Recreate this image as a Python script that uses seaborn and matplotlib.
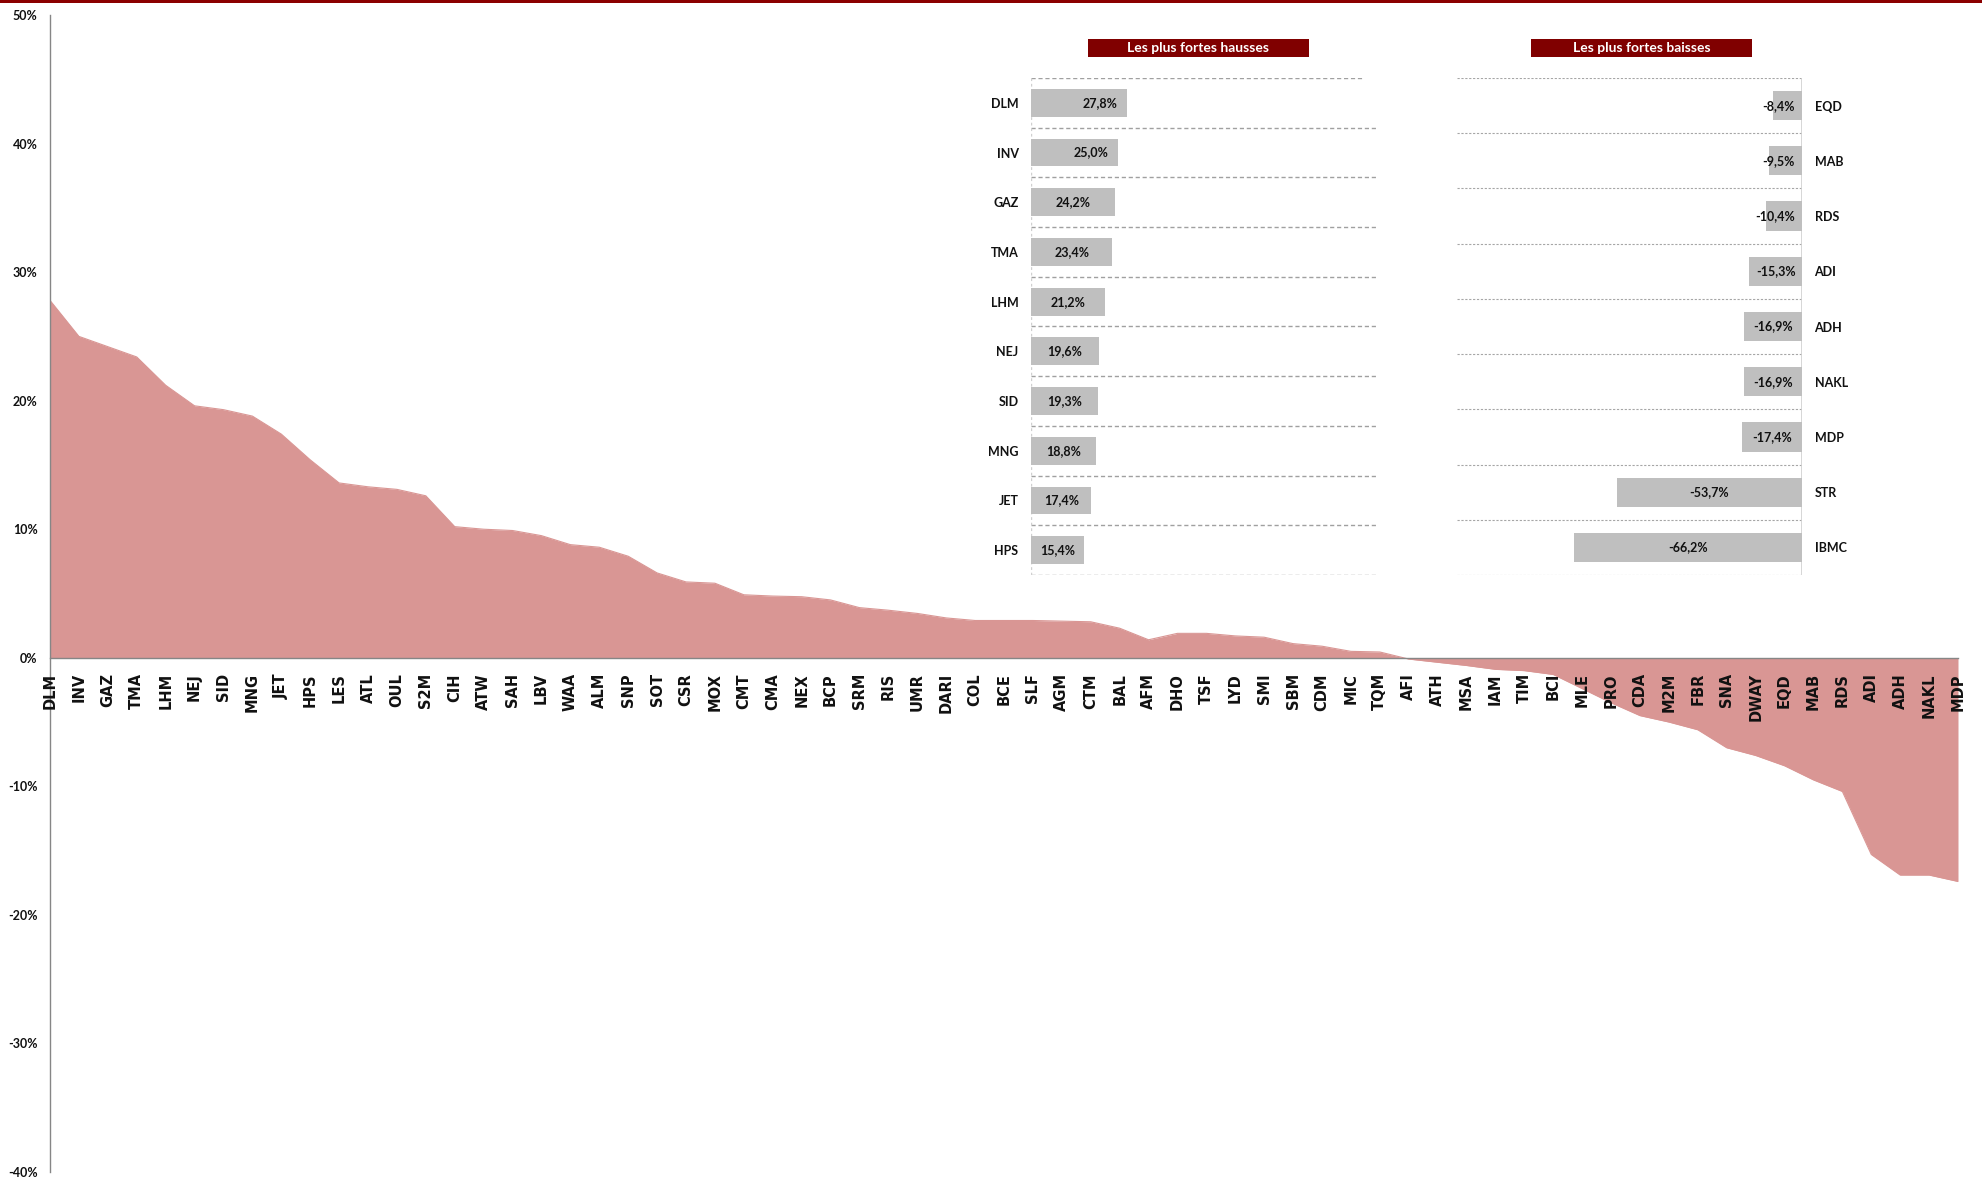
import numpy as np
import pandas as pd
import matplotlib
matplotlib.use("Agg")
import matplotlib.pyplot as plt
import seaborn as sns
from matplotlib.patches import Rectangle

# ---------------- data ----------------
tickers = ["DLM", "INV", "GAZ", "TMA", "LHM", "NEJ", "SID", "MNG", "JET", "HPS",
           "LES", "ATL", "OUL", "S2M", "CIH", "ATW", "SAH", "LBV", "WAA", "ALM",
           "SNP", "SOT", "CSR", "MOX", "CMT", "CMA", "NEX", "BCP", "SRM", "RIS",
           "UMR", "DARI", "COL", "BCE", "SLF", "AGM", "CTM", "BAL", "AFM", "DHO",
           "TSF", "LYD", "SMI", "SBM", "CDM", "MIC", "TQM", "AFI", "ATH", "MSA",
           "IAM", "TIM", "BCI", "MLE", "PRO", "CDA", "M2M", "FBR", "SNA", "DWAY",
           "EQD", "MAB", "RDS", "ADI", "ADH", "NAKL", "MDP"]
returns = [27.8, 25.0, 24.2, 23.4, 21.2, 19.6, 19.3, 18.8, 17.4, 15.4,
           13.6, 13.3, 13.1, 12.6, 10.2, 10.0, 9.9, 9.5, 8.8, 8.6,
           7.9, 6.6, 5.9, 5.8, 4.9, 4.8, 4.75, 4.5, 3.9, 3.7,
           3.45, 3.1, 2.9, 2.9, 2.9, 2.85, 2.8, 2.3, 1.4, 1.9,
           1.9, 1.7, 1.6, 1.1, 0.9, 0.5, 0.45, -0.1, -0.35, -0.6,
           -0.9, -1.0, -1.3, -2.4, -3.5, -4.5, -5.0, -5.6, -7.0, -7.6,
           -8.4, -9.5, -10.4, -15.3, -16.9, -16.9, -17.4]

y_ticks = [50, 40, 30, 20, 10, 0, -10, -20, -30, -40]

top_names = ["DLM", "INV", "GAZ", "TMA", "LHM", "NEJ", "SID", "MNG", "JET", "HPS"]
top_values = [27.8, 25.0, 24.2, 23.4, 21.2, 19.6, 19.3, 18.8, 17.4, 15.4]

bottom_names = ["EQD", "MAB", "RDS", "ADI", "ADH", "NAKL", "MDP", "STR", "IBMC"]
bottom_values = [-8.4, -9.5, -10.4, -15.3, -16.9, -16.9, -17.4, -53.7, -66.2]

title_up = "Les plus fortes hausses"
title_down = "Les plus fortes baisses"

# ---------------- style ----------------
sns.set_theme(style="white")
plt.rcParams['font.family'] = ['Lato', 'DejaVu Sans']

AREA = "#D99694"
BAR = "#BFBFBF"
MAROON = "#800000"
AXIS_GRAY = "#868686"
TXT = "#111111"
INSET_FS = 9

W, H = 1982, 1178
fig = plt.figure(figsize=(W / 100, H / 100), dpi=100)


def fx(px):
    return px / W


def fy(py):
    return 1 - py / H


def fmt(v):
    return f"{v:.1f}%".replace(".", ",")


# ---------------- main area chart ----------------
ax = fig.add_axes([fx(50), fy(1172), fx(1958) - fx(50), fy(15) - fy(1172)])
df = pd.DataFrame({"ticker": tickers, "ret": returns, "pos": np.arange(len(tickers))})
ax.fill_between(df["pos"], df["ret"], 0, color=AREA, linewidth=0, zorder=1)
sns.lineplot(data=df, x="pos", y="ret", ax=ax, color=AREA, linewidth=0.8, zorder=1.5)
ax.set_axisbelow(False)
ax.spines["bottom"].set_position(("data", 0))
for s in ["top", "right"]:
    ax.spines[s].set_visible(False)
for s in ["left", "bottom"]:
    ax.spines[s].set_color(AXIS_GRAY)
    ax.spines[s].set_linewidth(1.0)
    ax.spines[s].set_zorder(3)
ax.set_xlim(0, len(tickers) - 1)
ax.set_ylim(-40, 50)
ax.set_yticks(y_ticks)
ax.set_yticklabels([f"{v}%" for v in y_ticks], fontweight="bold", fontsize=9, color=TXT)
ax.set_xticks(df["pos"])
ax.set_xticklabels(tickers, rotation=90, fontweight="bold", fontsize=10.5,
                   family="DejaVu Sans", color=TXT)
ax.set_xlabel("")
ax.set_ylabel("")
ax.tick_params(axis="x", length=0, pad=11)
ax.tick_params(axis="y", length=0, pad=9)
ax.xaxis.set_zorder(4)
ax.patch.set_alpha(0)

# ---------------- inset: top gainers ----------------
ax1 = fig.add_axes([fx(1031), fy(575), fx(1378) - fx(1031), fy(78) - fy(575)])
sns.barplot(x=top_values, y=top_names, ax=ax1, color=BAR, saturation=1,
            width=0.56, orient="h", linewidth=0)
ax1.set_xlim(0, 100)
ax1.set_ylim(len(top_names) - 0.5, -0.5)
for k, yv in enumerate(np.arange(-0.5, len(top_names), 1.0)):
    ax1.axhline(yv, xmin=0, xmax=(0.96 if k == 0 else 1.0), color="#A0A0A0",
                ls=(0, (3, 2)), lw=1.0, zorder=0)
ax1.axvline(0, color="#D0D0D0", ls=(0, (2, 2)), lw=1.0, zorder=0)
for s in ax1.spines.values():
    s.set_visible(False)
ax1.set_xticks([])
ax1.set_xlabel("")
ax1.set_ylabel("")
ax1.tick_params(axis="y", length=0, pad=9)
for lab in ax1.get_yticklabels():
    lab.set_fontweight("bold")
    lab.set_fontsize(INSET_FS)
    lab.set_color(TXT)
for i, v in enumerate(top_values):
    if i < 2:
        ax1.annotate(fmt(v), (v, i), xytext=(-7, 0), textcoords="offset points",
                     ha="right", va="center", fontsize=INSET_FS, fontweight="bold", color=TXT)
    else:
        ax1.text(v / 2, i, fmt(v), ha="center", va="center", fontsize=INSET_FS,
                 fontweight="bold", color=TXT)
ax1.patch.set_alpha(0)

# ---------------- inset: top losers ----------------
ax2 = fig.add_axes([fx(1457), fy(575), fx(1802) - fx(1457), fy(78) - fy(575)])
sns.barplot(x=bottom_values, y=bottom_names, ax=ax2, color=BAR, saturation=1,
            width=0.53, orient="h", linewidth=0)
ax2.set_xlim(-100, 0)
ax2.set_ylim(len(bottom_names) - 0.5, -0.5)
for yv in np.arange(-0.5, len(bottom_names), 1.0):
    ax2.axhline(yv, color="#A6A6A6", ls=(0, (2, 1.5)), lw=0.8, zorder=0)
ax2.axvline(0, color="#D0D0D0", lw=1.2, zorder=0)
for s in ax2.spines.values():
    s.set_visible(False)
ax2.set_xticks([])
ax2.set_xlabel("")
ax2.set_ylabel("")
ax2.yaxis.tick_right()
ax2.tick_params(axis="y", length=0, pad=9)
for lab in ax2.get_yticklabels():
    lab.set_fontweight("bold")
    lab.set_fontsize(INSET_FS)
    lab.set_color(TXT)
for i, v in enumerate(bottom_values):
    if abs(v) < 12:
        ax2.annotate(fmt(v), (0, i), xytext=(-5, 0), textcoords="offset points",
                     ha="right", va="center", fontsize=INSET_FS, fontweight="bold", color=TXT)
    else:
        ax2.text(v / 2, i, fmt(v), ha="center", va="center", fontsize=INSET_FS,
                 fontweight="bold", color=TXT)
ax2.patch.set_alpha(0)

# ---------------- titles and top rule ----------------
for (x0, x1, txt) in [(1088, 1309, title_up), (1531, 1752, title_down)]:
    fig.patches.append(Rectangle((fx(x0), fy(57)), fx(x1) - fx(x0), fy(39) - fy(57),
                                 transform=fig.transFigure, facecolor=MAROON,
                                 edgecolor="none", zorder=5))
    fig.text((fx(x0) + fx(x1)) / 2, (fy(39) + fy(57)) / 2, txt, ha="center", va="center",
             color="white", fontsize=10, fontweight="bold", zorder=6)

fig.patches.append(Rectangle((0, fy(3)), 1, fy(0) - fy(3), transform=fig.transFigure,
                             facecolor="#8B0000", edgecolor="none", zorder=5))

fig.savefig("out.png", dpi=100)
